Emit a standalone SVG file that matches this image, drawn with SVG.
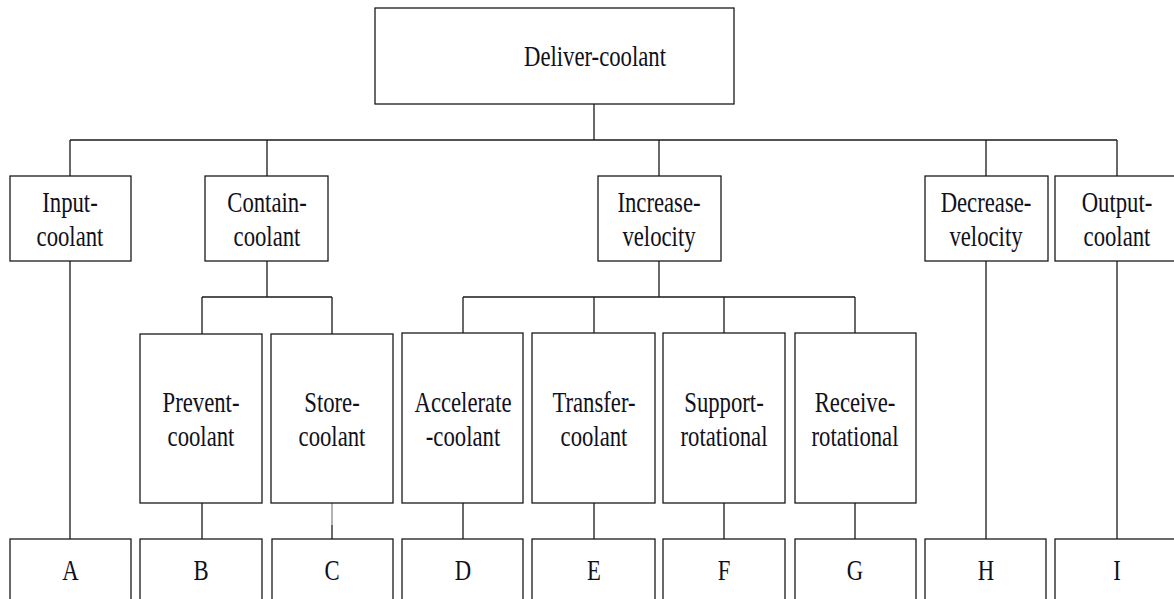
<svg xmlns="http://www.w3.org/2000/svg" width="1174" height="599" viewBox="0 0 1174 599">
  <style>
    .box { fill: #ffffff; stroke: #1a1a1a; stroke-width: 1.3; }
    .wire { fill: none; stroke: #1a1a1a; stroke-width: 1.3; }
    .faint { fill: none; stroke: #8a8a8a; stroke-width: 1.3; }
    .lbl { font-family: "Liberation Serif", "Times New Roman", serif; font-size: 29.5px; fill: #10101c; text-anchor: middle; }
  </style>
  <rect width="1174" height="599" fill="#ffffff"/>

  <!-- connectors -->
  <g id="connectors">
    <path class="wire" d="M594,104 V140 M70,140 H1117 M70,140 V176 M267,140 V176 M659,140 V176 M986,140 V176 M1117,140 V176"/>
    <path class="wire" d="M267,261 V297 M202,297 H332 M202,297 V334 M332,297 V334"/>
    <path class="wire" d="M659,261 V297 M463,297 H855 M463,297 V333 M594,297 V333 M724,297 V333 M855,297 V333"/>
    <path class="wire" d="M70,261 V539 M986,261 V539 M1117,261 V539"/>
    <path class="wire" d="M202,503 V539 M463,503 V539 M594,503 V539 M724,503 V539 M855,503 V539"/>
    <path class="faint" d="M332,503 V525"/>
    <path class="wire" d="M332,525 V539"/>
  </g>

  <!-- root -->
  <g id="deliver-coolant">
    <rect class="box" x="375" y="8" width="359" height="96"/>
    <text class="lbl" transform="translate(595,66) scale(0.77,1)">Deliver-coolant</text>
  </g>

  <!-- level 2 -->
  <g id="input-coolant">
    <rect class="box" x="10" y="176" width="121" height="85"/>
    <text class="lbl" transform="translate(70,211.5) scale(0.77,1)">Input-</text>
    <text class="lbl" transform="translate(70,246) scale(0.77,1)">coolant</text>
  </g>
  <g id="contain-coolant">
    <rect class="box" x="205" y="176" width="123" height="85"/>
    <text class="lbl" transform="translate(267,211.5) scale(0.77,1)">Contain-</text>
    <text class="lbl" transform="translate(267,246) scale(0.77,1)">coolant</text>
  </g>
  <g id="increase-velocity">
    <rect class="box" x="598" y="176" width="123" height="85"/>
    <text class="lbl" transform="translate(659,211.5) scale(0.77,1)">Increase-</text>
    <text class="lbl" transform="translate(659,246) scale(0.77,1)">velocity</text>
  </g>
  <g id="decrease-velocity">
    <rect class="box" x="925" y="176" width="123" height="85"/>
    <text class="lbl" transform="translate(986,211.5) scale(0.77,1)">Decrease-</text>
    <text class="lbl" transform="translate(986,246) scale(0.77,1)">velocity</text>
  </g>
  <g id="output-coolant">
    <rect class="box" x="1055" y="176" width="123" height="85"/>
    <text class="lbl" transform="translate(1117,211.5) scale(0.77,1)">Output-</text>
    <text class="lbl" transform="translate(1117,246) scale(0.77,1)">coolant</text>
  </g>

  <!-- level 3 -->
  <g id="prevent-coolant">
    <rect class="box" x="140" y="334" width="122" height="169"/>
    <text class="lbl" transform="translate(201,411.5) scale(0.77,1)">Prevent-</text>
    <text class="lbl" transform="translate(201,446) scale(0.77,1)">coolant</text>
  </g>
  <g id="store-coolant">
    <rect class="box" x="271" y="334" width="122" height="169"/>
    <text class="lbl" transform="translate(332,411.5) scale(0.77,1)">Store-</text>
    <text class="lbl" transform="translate(332,446) scale(0.77,1)">coolant</text>
  </g>
  <g id="accelerate-coolant">
    <rect class="box" x="402" y="333" width="121" height="170"/>
    <text class="lbl" transform="translate(463,411.5) scale(0.77,1)">Accelerate</text>
    <text class="lbl" transform="translate(463,446) scale(0.77,1)">-coolant</text>
  </g>
  <g id="transfer-coolant">
    <rect class="box" x="532" y="333" width="123" height="170"/>
    <text class="lbl" transform="translate(594,411.5) scale(0.77,1)">Transfer-</text>
    <text class="lbl" transform="translate(594,446) scale(0.77,1)">coolant</text>
  </g>
  <g id="support-rotational">
    <rect class="box" x="663" y="333" width="122" height="170"/>
    <text class="lbl" transform="translate(724,411.5) scale(0.77,1)">Support-</text>
    <text class="lbl" transform="translate(724,446) scale(0.77,1)">rotational</text>
  </g>
  <g id="receive-rotational">
    <rect class="box" x="795" y="333" width="121" height="170"/>
    <text class="lbl" transform="translate(855,411.5) scale(0.77,1)">Receive-</text>
    <text class="lbl" transform="translate(855,446) scale(0.77,1)">rotational</text>
  </g>

  <!-- leaves -->
  <g id="leaf-a"><rect class="box" x="10" y="539" width="121" height="80"/><text class="lbl" transform="translate(70.5,580) scale(0.77,1)">A</text></g>
  <g id="leaf-b"><rect class="box" x="140" y="539" width="122" height="80"/><text class="lbl" transform="translate(201,580) scale(0.77,1)">B</text></g>
  <g id="leaf-c"><rect class="box" x="272" y="539" width="121" height="80"/><text class="lbl" transform="translate(332,580) scale(0.77,1)">C</text></g>
  <g id="leaf-d"><rect class="box" x="402" y="539" width="121" height="80"/><text class="lbl" transform="translate(463,580) scale(0.77,1)">D</text></g>
  <g id="leaf-e"><rect class="box" x="532" y="539" width="123" height="80"/><text class="lbl" transform="translate(594,580) scale(0.77,1)">E</text></g>
  <g id="leaf-f"><rect class="box" x="663" y="539" width="122" height="80"/><text class="lbl" transform="translate(724,580) scale(0.77,1)">F</text></g>
  <g id="leaf-g"><rect class="box" x="795" y="539" width="121" height="80"/><text class="lbl" transform="translate(855,580) scale(0.77,1)">G</text></g>
  <g id="leaf-h"><rect class="box" x="925" y="539" width="121" height="80"/><text class="lbl" transform="translate(986,580) scale(0.77,1)">H</text></g>
  <g id="leaf-i"><rect class="box" x="1055" y="539" width="123" height="80"/><text class="lbl" transform="translate(1117,580) scale(0.77,1)">I</text></g>
</svg>
